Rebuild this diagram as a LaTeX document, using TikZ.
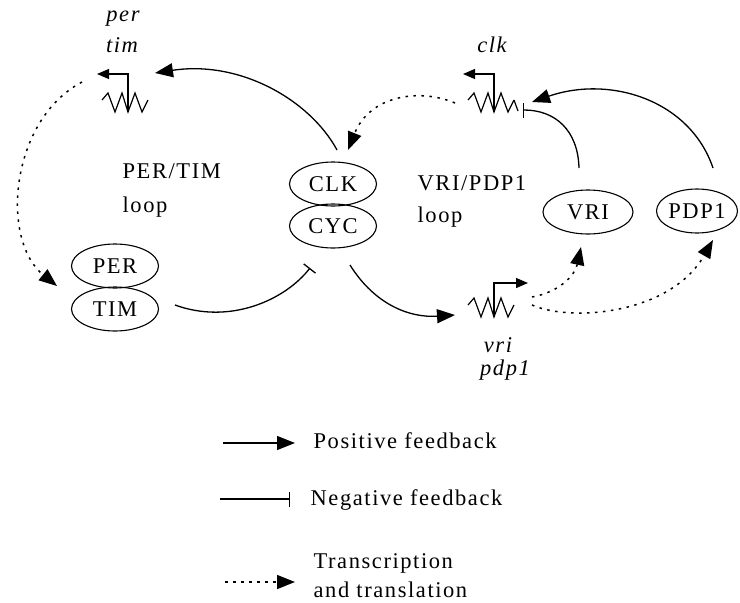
\documentclass[tikz,border=0pt]{standalone}
\usepackage{fontspec}
\setmainfont{Liberation Serif}
\newfontfamily\spacedserif{Liberation Serif}[LetterSpace=7]
\usetikzlibrary{arrows.meta,shapes.geometric}
\tikzset{
  zig/.pic={\draw[line width=1.2pt,line join=miter] (0,0) -- (6,-7) -- (13,12) -- (20,-7) -- (26,12) -- (33,-7) -- (40,12) -- (46,0);},
}
\begin{document}
\begin{tikzpicture}[x=1pt,y=-1pt, line width=1.3pt,
  every node/.style={font=\spacedserif\fontsize{22.5}{26}\selectfont, inner sep=0pt},
  gtext/.style={font=\spacedserif\fontsize{22.5}{26}\selectfont\itshape},
  prot/.style={draw, ellipse, line width=1.1pt, minimum width=87pt, minimum height=44pt},
  posarrow/.style={-{Triangle[length=18pt,width=14pt]}},
  negarrow/.style={-{Bar[width=15pt,line width=1.3pt]}},
  dotarrow/.style={line width=1.5pt, dash pattern=on 2.5pt off 5.5pt, -{Triangle[length=18pt,width=14pt]}},
  bentarrow/.style={line width=1.3pt, -{Triangle[length=12pt,width=10pt]}},
]
\useasboundingbox (0,0) rectangle (740,603);

% proteins
\node[prot] (per) at (115,266) {PER};
\node[prot] (tim) at (115,309) {TIM};
\node[prot] (clk) at (333,184) {CLK};
\node[prot] (cyc) at (333,226) {CYC};
\node[prot, minimum width=90pt] (vri) at (588,212) {VRI};
\node[prot, minimum width=72pt] (pdp) at (697,211) {PDP1};

% gene labels
\node[gtext, anchor=base] (tper) at (123,21) {per};
\node[gtext, anchor=base] (ttim) at (122,52) {tim};
\node[gtext, anchor=base] (tclk) at (492,52) {clk};
\node[gtext, anchor=base] (tvri) at (498,352) {vri};
\node[gtext, anchor=base] (tpdp) at (505,375) {pdp1};

% loop labels
\node[anchor=base west] (lpt) at (122,178) {PER/TIM};
\node[anchor=base west] (lpt2) at (122,212) {loop};
\node[anchor=base west] (lvp) at (417,190) {VRI/PDP1};
\node[anchor=base west] (lvp2) at (417,222) {loop};

% genes
\pic at (102,100) {zig};
\draw[bentarrow] (128,112) -- (128,74) -- (97,74);
\pic at (468,100) {zig};
\draw[line width=1.2pt] (514,100) -- (518,111);
\draw[bentarrow] (494,112) -- (494,74) -- (463,74);
\pic at (468,305) {zig};
\draw[bentarrow] (494,317) -- (494,283) -- (528,283);

% connector end points
\coordinate (pergene) at (155,73);
\coordinate (clktop) at (337,150);
\coordinate (clkgL) at (455,103);
\coordinate (clkin) at (348,150);
\coordinate (pergL) at (82,82);
\coordinate (perin) at (57,286);
\coordinate (timout) at (175,305);
\coordinate (cycbar) at (310,268);
\coordinate (cycout) at (350,265);
\coordinate (vrigene) at (455,315);
\coordinate (vriout) at (579,168);
\coordinate (clkbar) at (523,110);
\coordinate (pdpout) at (713,168);
\coordinate (clkgene) at (532,102);
\coordinate (vrigA) at (532,297);
\coordinate (vriin) at (581,247);
\coordinate (vrigB) at (532,305);
\coordinate (pdpin) at (713,240);

% connectors
\draw[posarrow] (clktop) .. controls (310,100) and (240,60) .. (pergene);
\draw[dotarrow] (clkgL) .. controls (420,88) and (370,95) .. (clkin);
\draw[dotarrow] (pergL) .. controls (10,120) and (0,240) .. (perin);
\draw[negarrow] (timout) .. controls (230,325) and (285,300) .. (cycbar);
\draw[posarrow] (cycout) .. controls (375,305) and (410,318) .. (vrigene);
\draw[negarrow] (vriout) .. controls (578,130) and (555,110) .. (clkbar);
\draw[posarrow] (pdpout) .. controls (690,100) and (610,75) .. (clkgene);
\draw[dotarrow] (vrigA) .. controls (560,292) and (575,275) .. (vriin);
\draw[dotarrow] (vrigB) .. controls (570,322) and (670,315) .. (pdpin);

% legend
\coordinate (lgA1) at (223,443);
\coordinate (lgA2) at (295,443);
\coordinate (lgB1) at (220,499);
\coordinate (lgB2) at (290,499);
\coordinate (lgC1) at (225,582);
\coordinate (lgC2) at (295,582);
\draw[posarrow] (lgA1) -- (lgA2);
\draw[negarrow] (lgB1) -- (lgB2);
\draw[dotarrow] (lgC1) -- (lgC2);
\node[anchor=base west] (lgtA) at (313,448) {Positive feedback};
\node[anchor=base west] (lgtB) at (310,505) {Negative feedback};
\node[anchor=base west] (lgtC) at (313,568) {Transcription};
\node[anchor=base west] (lgtD) at (313,597) {and translation};
\end{tikzpicture}
\end{document}
